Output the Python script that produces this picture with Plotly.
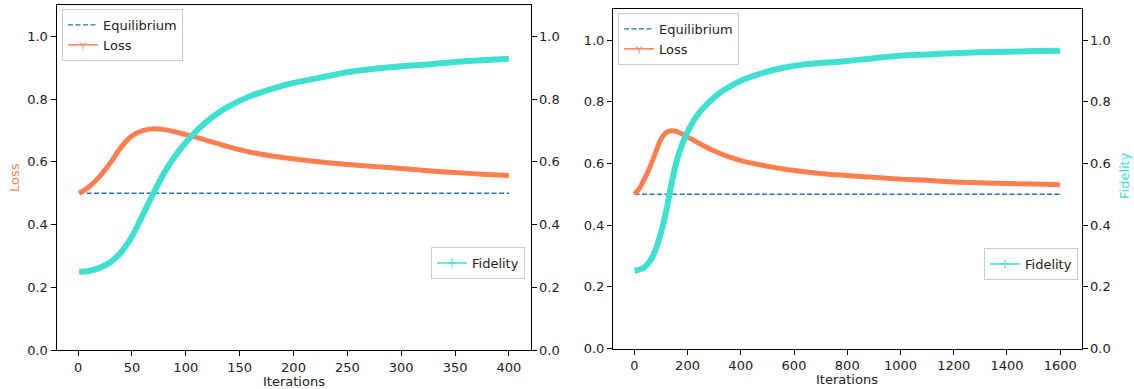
import plotly.graph_objects as go

# ---------------- data ----------------
iters_left = [1, 10, 20, 30, 40, 50, 60, 70, 80, 90, 100, 110, 120, 130, 140, 160, 180, 200,
              225, 250, 275, 300, 325, 350, 375, 400]
loss_left = [0.500, 0.520, 0.553, 0.597, 0.647, 0.683, 0.700, 0.706, 0.703, 0.696,
             0.687, 0.678, 0.668, 0.658, 0.648, 0.631, 0.619, 0.610, 0.600, 0.592,
             0.585, 0.579, 0.572, 0.566, 0.561, 0.557]
fidelity_left = [0.250, 0.252, 0.262, 0.280, 0.312, 0.362, 0.430, 0.500, 0.565, 0.618,
                 0.662, 0.699, 0.730, 0.756, 0.777, 0.810, 0.833, 0.852, 0.869, 0.886,
                 0.897, 0.905, 0.911, 0.919, 0.924, 0.929]

iters_right = [1, 20, 40, 60, 80, 100, 120, 140, 160, 180, 200, 240, 280, 320, 360, 400,
               480, 560, 640, 720, 800, 900, 1000, 1100, 1200, 1300, 1400, 1500, 1600]
loss_right = [0.500, 0.520, 0.553, 0.590, 0.636, 0.678, 0.700, 0.706, 0.703, 0.695,
              0.686, 0.667, 0.648, 0.633, 0.620, 0.609, 0.594, 0.582, 0.573, 0.566,
              0.561, 0.555, 0.549, 0.545, 0.540, 0.537, 0.535, 0.533, 0.531]
fidelity_right = [0.252, 0.256, 0.265, 0.285, 0.320, 0.375, 0.445, 0.535, 0.610, 0.662,
                  0.702, 0.760, 0.798, 0.828, 0.850, 0.868, 0.893, 0.910, 0.921, 0.927,
                  0.932, 0.941, 0.949, 0.953, 0.957, 0.960, 0.962, 0.964, 0.965]

equilibrium = 0.5
y_ticks = [0.0, 0.2, 0.4, 0.6, 0.8, 1.0]
y_ticklabels = ["0.0", "0.2", "0.4", "0.6", "0.8", "1.0"]
x_ticks_left = [0, 50, 100, 150, 200, 250, 300, 350, 400]
x_ticks_right = [0, 200, 400, 600, 800, 1000, 1200, 1400, 1600]

# ---------------- style ----------------
W, H = 1134, 389
C_EQ = "#1f77b4"
C_LOSS = "#FF7F50"
C_FID = "#40E0D0"
FONT = "DejaVu Sans"

fig = go.Figure()

def add_panel(xa, ya, ya2, iters, loss, fid, leg_a, leg_b):
    fig.add_trace(go.Scatter(x=[iters[0], iters[-1]], y=[equilibrium, equilibrium],
                             mode="lines", xaxis=xa, yaxis=ya,
                             line=dict(color=C_EQ, width=1.3, dash="5px,2.5px"),
                             name="Equilibrium", legend=leg_a))
    fig.add_trace(go.Scatter(x=iters, y=loss, mode="lines", xaxis=xa, yaxis=ya,
                             line=dict(color=C_LOSS, width=5, shape="spline", smoothing=0.8),
                             showlegend=False, hoverinfo="skip"))
    fig.add_trace(go.Scatter(x=[None], y=[None], mode="lines+markers", xaxis=xa, yaxis=ya,
                             line=dict(color=C_LOSS, width=1.5),
                             marker=dict(symbol="y-down", size=6, color=C_LOSS,
                                         line=dict(color=C_LOSS, width=1)),
                             name="Loss", legend=leg_a))
    fig.add_trace(go.Scatter(x=iters, y=fid, mode="lines", xaxis=xa, yaxis=ya2,
                             line=dict(color=C_FID, width=6, shape="spline", smoothing=0.8),
                             showlegend=False, hoverinfo="skip"))
    fig.add_trace(go.Scatter(x=[None], y=[None], mode="lines+markers", xaxis=xa, yaxis=ya2,
                             line=dict(color=C_FID, width=1.5),
                             marker=dict(symbol="cross-thin", size=7, color=C_FID,
                                         line=dict(color=C_FID, width=1)),
                             name="Fidelity", legend=leg_b))

add_panel("x", "y", "y2", iters_left, loss_left, fidelity_left, "legend", "legend2")
add_panel("x2", "y3", "y4", iters_right, loss_right, fidelity_right, "legend3", "legend4")

def px_x(p):
    return p / W

def px_y(p):
    return min(1.0, max(0.0, 1 - p / H))

axis_common = dict(showgrid=False, zeroline=False, showline=True, linecolor="black",
                   linewidth=1, ticks="outside", ticklen=5, tickwidth=1, tickcolor="black",
                   tickfont=dict(family=FONT, size=13, color="#222222"), automargin=False)

# left panel: value 0 at y=350, value 1 at y=36.5, top of box at y=5
L_bot, L_one, L_top = 350.0, 36.5, 5.0
yrangeL = [0, (L_bot - L_top) / (L_bot - L_one)]
ydomL = [px_y(L_bot), px_y(L_top)]
# right panel: value 0 at y=348.5, value 1 at y=40, top at 9
R_bot, R_one, R_top = 348.5, 40.0, 9.0
yrangeR = [0, (R_bot - R_top) / (R_bot - R_one)]
ydomR = [px_y(R_bot), px_y(R_top)]

xdomL = [px_x(56.5), px_x(530.5)]
xdomR = [px_x(613), px_x(1081.5)]

fig.update_layout(
    width=W, height=H,
    margin=dict(l=0, r=0, t=0, b=0),
    paper_bgcolor="white", plot_bgcolor="white",
    font=dict(family=FONT, size=13, color="#222222"),
    xaxis=dict(domain=xdomL, anchor="y", range=[-20, 420],
               tickvals=x_ticks_left, mirror=True, **axis_common),
    yaxis=dict(domain=ydomL, anchor="x", range=yrangeL, tickvals=y_ticks,
               ticktext=y_ticklabels, **axis_common),
    yaxis2=dict(overlaying="y", side="right", anchor="x", range=yrangeL,
                tickvals=y_ticks, ticktext=y_ticklabels, **axis_common),
    xaxis2=dict(domain=xdomR, anchor="y3", range=[-80, 1680],
                tickvals=x_ticks_right, mirror=True, **axis_common),
    yaxis3=dict(domain=ydomR, anchor="x2", range=yrangeR, tickvals=y_ticks,
                ticktext=y_ticklabels, **axis_common),
    yaxis4=dict(overlaying="y3", side="right", anchor="x2", range=yrangeR,
                tickvals=y_ticks, ticktext=y_ticklabels, **axis_common),
)

# axis titles as annotations (exact placement)
title_font = dict(family=FONT, size=13, color="#222222")
fig.add_annotation(text="Iterations", xref="paper", yref="paper",
                   x=(xdomL[0] + xdomL[1]) / 2, y=px_y(381), xanchor="center", yanchor="middle",
                   showarrow=False, font=title_font)
fig.add_annotation(text="Iterations", xref="paper", yref="paper",
                   x=(xdomR[0] + xdomR[1]) / 2, y=px_y(379), xanchor="center", yanchor="middle",
                   showarrow=False, font=title_font)
fig.add_annotation(text="Loss", xref="paper", yref="paper", textangle=-90,
                   x=px_x(14), y=px_y(178), xanchor="center", yanchor="middle",
                   showarrow=False, font=dict(family=FONT, size=13, color=C_LOSS))
fig.add_annotation(text="Fidelity", xref="paper", yref="paper", textangle=-90,
                   x=px_x(1124), y=px_y(176), xanchor="center", yanchor="middle",
                   showarrow=False, font=dict(family=FONT, size=13, color=C_FID))

leg_style = dict(bgcolor="rgba(255,255,255,0.8)", bordercolor="#cccccc", borderwidth=1,
                 font=dict(family=FONT, size=13, color="#222222"),
                 itemwidth=30, tracegroupgap=0)
fig.update_layout(
    legend=dict(x=px_x(62), y=px_y(9), xanchor="left", yanchor="top", **leg_style),
    legend2=dict(x=px_x(525), y=px_y(247), xanchor="right", yanchor="top", **leg_style),
    legend3=dict(x=px_x(618), y=px_y(13), xanchor="left", yanchor="top", **leg_style),
    legend4=dict(x=px_x(1078), y=px_y(248), xanchor="right", yanchor="top", **leg_style),
)

fig.write_html(
    "out.html",
    config={"displayModeBar": False},
    post_script="document.body.style.margin='0px';"
                "document.documentElement.style.overflow='hidden';"
                "document.body.style.overflow='hidden';",
)
